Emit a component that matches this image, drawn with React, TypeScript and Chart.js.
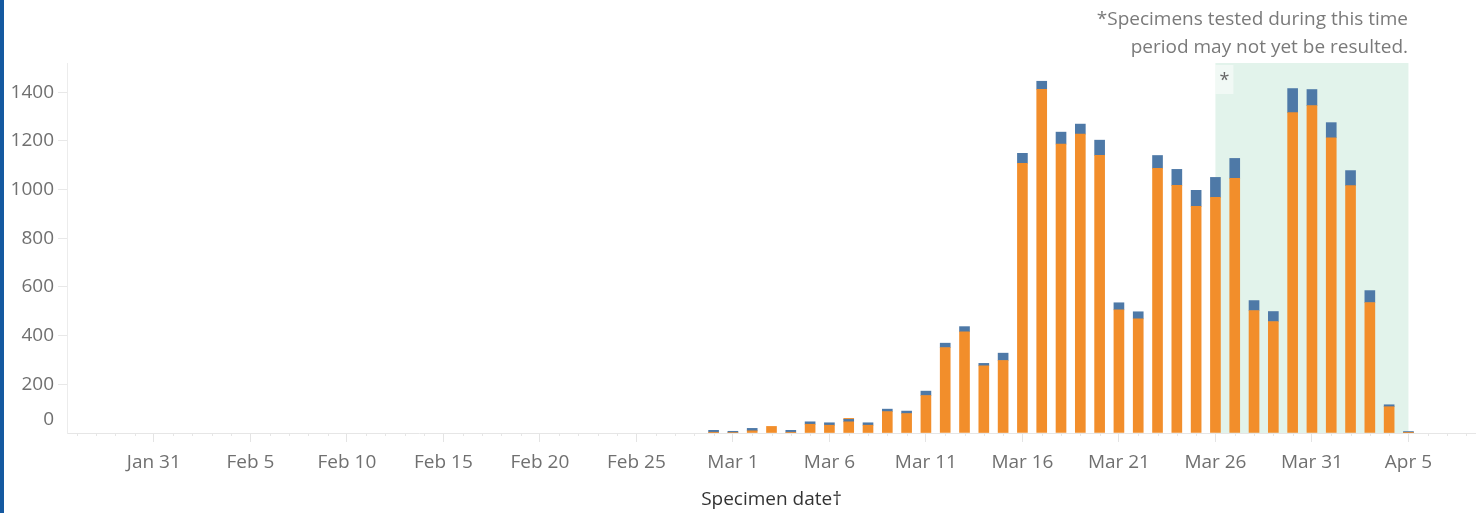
import React, { useEffect, useRef } from "react";
import { Chart, registerables } from "chart.js";

Chart.register(...registerables);

const dates = [
  "Jan 27", "Jan 28", "Jan 29", "Jan 30", "Jan 31",
  "Feb 1", "Feb 2", "Feb 3", "Feb 4", "Feb 5", "Feb 6", "Feb 7", "Feb 8", "Feb 9", "Feb 10",
  "Feb 11", "Feb 12", "Feb 13", "Feb 14", "Feb 15", "Feb 16", "Feb 17", "Feb 18", "Feb 19", "Feb 20",
  "Feb 21", "Feb 22", "Feb 23", "Feb 24", "Feb 25", "Feb 26", "Feb 27", "Feb 28", "Feb 29",
  "Mar 1", "Mar 2", "Mar 3", "Mar 4", "Mar 5", "Mar 6", "Mar 7", "Mar 8", "Mar 9", "Mar 10",
  "Mar 11", "Mar 12", "Mar 13", "Mar 14", "Mar 15", "Mar 16", "Mar 17", "Mar 18", "Mar 19", "Mar 20",
  "Mar 21", "Mar 22", "Mar 23", "Mar 24", "Mar 25", "Mar 26", "Mar 27", "Mar 28", "Mar 29", "Mar 30", "Mar 31",
  "Apr 1", "Apr 2", "Apr 3", "Apr 4", "Apr 5", "Apr 6", "Apr 7", "Apr 8",
];

// orange (bottom of stack)
const negative = [
  0, 0, 0, 0, 0,
  0, 0, 0, 0, 0, 0, 0, 0, 0, 0,
  0, 0, 0, 0, 0, 0, 0, 0, 0, 0,
  0, 0, 0, 0, 0, 0, 0, 0, 3,
  2, 9, 27, 3, 36, 32, 46, 32, 88, 80,
  154, 351, 416, 276, 298, 1108, 1412, 1187, 1228, 1141,
  506, 469, 1087, 1017, 931, 968, 1046, 503, 458, 1316, 1345,
  1213, 1016, 536, 108, 1, 0, 0, 0,
];

// blue (top of stack)
const positive = [
  0, 0, 0, 0, 0,
  0, 0, 0, 0, 0, 0, 0, 0, 0, 0,
  0, 0, 0, 0, 0, 0, 0, 0, 0, 0,
  0, 0, 0, 0, 0, 0, 0, 0, 8,
  5, 10, 0, 8, 10, 10, 10, 10, 10, 10,
  18, 18, 21, 10, 30, 41, 33, 49, 41, 62,
  29, 29, 53, 66, 66, 82, 82, 41, 41, 99, 66,
  62, 62, 49, 8, 5, 0, 0, 0,
];

// small orange cap seen on one bar
const other = [
  0, 0, 0, 0, 0,
  0, 0, 0, 0, 0, 0, 0, 0, 0, 0,
  0, 0, 0, 0, 0, 0, 0, 0, 0, 0,
  0, 0, 0, 0, 0, 0, 0, 0, 0,
  0, 0, 0, 0, 0, 0, 4, 0, 0, 0,
  0, 0, 0, 0, 0, 0, 0, 0, 0, 0,
  0, 0, 0, 0, 0, 0, 0, 0, 0, 0, 0,
  0, 0, 0, 0, 0, 0, 0, 0,
];

const yTicks = [0, 200, 400, 600, 800, 1000, 1200, 1400];
const yMax = 1520;
const xTickLabels = [
  "Jan 31", "Feb 5", "Feb 10", "Feb 15", "Feb 20", "Feb 25",
  "Mar 1", "Mar 6", "Mar 11", "Mar 16", "Mar 21", "Mar 26", "Mar 31", "Apr 5",
];
const shadeFrom = "Mar 26";
const shadeTo = "Apr 5";
const noteLines = ["*Specimens tested during this time", "period may not yet be resulted."];
const axisTitle = "Specimen date\u2020";

const FONT = '"Open Sans", "Noto Sans", sans-serif';
const TICK_COLOR = "#707070";

const nz = (arr: number[]) => arr.map((v) => (v === 0 ? null : v));

const overlayPlugin = {
  id: "overlay",
  beforeDatasetsDraw(chart: any) {
    const { ctx, chartArea, scales } = chart;
    const x = scales.x;
    const x0 = x.getPixelForValue(dates.indexOf(shadeFrom));
    const x1 = x.getPixelForValue(dates.indexOf(shadeTo));
    ctx.save();
    ctx.fillStyle = "#e2f3eb";
    ctx.fillRect(x0, chartArea.top, x1 - x0, chartArea.bottom - chartArea.top);
    ctx.fillStyle = "rgba(255,255,255,0.5)";
    ctx.fillRect(x0, chartArea.top + 2, 18, 29);
    ctx.fillStyle = "#666";
    ctx.font = `18px ${FONT}`;
    ctx.textAlign = "center";
    ctx.textBaseline = "middle";
    ctx.fillText("*", x0 + 9, chartArea.top + 18);
    ctx.restore();
  },
  afterDraw(chart: any) {
    const { ctx, chartArea, scales } = chart;
    const x = scales.x;
    const y = scales.y;
    ctx.save();
    // minor day ticks
    ctx.strokeStyle = "#e6e6e6";
    ctx.lineWidth = 1;
    for (let i = 0; i < dates.length; i++) {
      if (xTickLabels.includes(dates[i])) continue;
      const px = Math.round(x.getPixelForTick(i)) + 0.5;
      ctx.beginPath();
      ctx.moveTo(px, chartArea.bottom);
      ctx.lineTo(px, chartArea.bottom + 3);
      ctx.stroke();
    }
    // zero label (sits above the baseline)
    ctx.fillStyle = TICK_COLOR;
    ctx.font = `19px ${FONT}`;
    ctx.textAlign = "right";
    ctx.textBaseline = "middle";
    ctx.fillText("0", y.right - 13, y.getPixelForValue(0) - 13);
    // note
    ctx.fillStyle = "#7a7a7a";
    ctx.textAlign = "right";
    ctx.fillText(noteLines[0], 1408, 20);
    ctx.fillText(noteLines[1], 1408, 48);
    ctx.restore();
  },
};

export default function App() {
  const ref = useRef<HTMLCanvasElement | null>(null);

  useEffect(() => {
    document.body.style.margin = "0";
    const canvas = ref.current;
    if (!canvas) return;
    const chart = new Chart(canvas, {
      type: "bar",
      data: {
        labels: dates,
        datasets: [
          { label: "Negative", data: nz(negative), backgroundColor: "#f28e2b", barThickness: 10, borderWidth: 0 },
          { label: "Positive", data: nz(positive), backgroundColor: "#4e79a7", barThickness: 10, borderWidth: 0 },
          { label: "Other", data: nz(other), backgroundColor: "#f28e2b", barThickness: 10, borderWidth: 0 },
        ],
      },
      options: {
        animation: false,
        responsive: false,
        devicePixelRatio: 1,
        layout: { padding: { top: 63, left: 0, right: 0, bottom: 0 } },
        plugins: { legend: { display: false }, tooltip: { enabled: false } },
        scales: {
          x: {
            stacked: true,
            afterFit: (s: any) => {
              s.height = 80;
            },
            grid: {
              offset: false,
              drawOnChartArea: false,
              drawTicks: true,
              tickLength: 9,
              tickColor: (c: any) => (xTickLabels.includes(dates[c.index]) ? "#e4e4e4" : "rgba(0,0,0,0)"),
            },
            border: { display: true, color: "#e6e6e6", dash: [6, 2] },
            ticks: {
              autoSkip: false,
              maxRotation: 0,
              minRotation: 0,
              padding: 9,
              color: TICK_COLOR,
              font: { size: 19, family: FONT },
              callback: (_v: any, i: number) => (xTickLabels.includes(dates[i]) ? dates[i] : ""),
            },
            title: {
              display: true,
              text: axisTitle,
              color: "#333333",
              font: { size: 19, family: FONT },
              padding: { top: 0, bottom: 2 },
            },
          },
          y: {
            stacked: true,
            min: 0,
            max: yMax,
            afterFit: (s: any) => {
              s.width = 67;
            },
            afterBuildTicks: (s: any) => {
              s.ticks = yTicks.map((v) => ({ value: v }));
            },
            grid: {
              drawOnChartArea: false,
              drawTicks: true,
              tickLength: 9,
              tickColor: (c: any) => (c.tick && c.tick.value === 0 ? "rgba(0,0,0,0)" : "#e8e8e8"),
            },
            border: { display: true, color: "#ececec" },
            ticks: {
              padding: 4,
              color: TICK_COLOR,
              font: { size: 19, family: FONT },
              callback: (v: any) => (v === 0 ? "" : String(v)),
            },
          },
        },
      },
      plugins: [overlayPlugin],
    });
    return () => chart.destroy();
  }, []);

  return (
    <div style={{ position: "relative", width: 1476, height: 513, overflow: "hidden" }}>
      <canvas ref={ref} width={1476} height={513} style={{ display: "block" }} />
      <div
        style={{
          position: "absolute",
          left: 0,
          top: 0,
          width: 4,
          height: 513,
          background: "#1559a0",
        }}
      />
    </div>
  );
}
